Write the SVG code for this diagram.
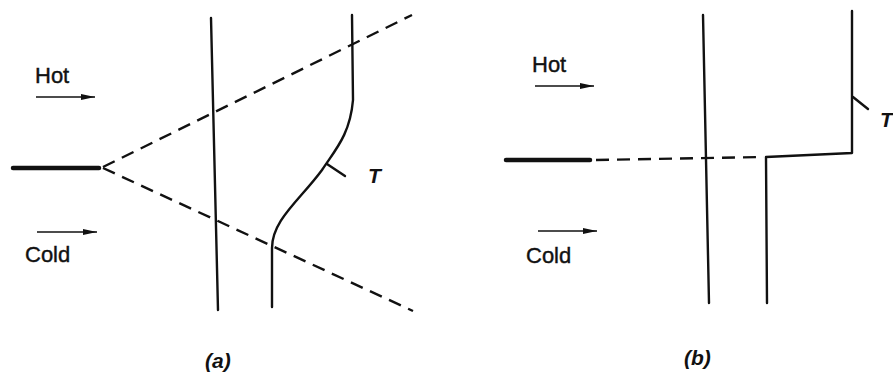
<svg xmlns="http://www.w3.org/2000/svg" width="893" height="378" viewBox="0 0 893 378">
<style>
.ln{fill:none;stroke:#111;stroke-width:2.4;stroke-linecap:round;stroke-linejoin:round}
.thick{fill:none;stroke:#111;stroke-width:4.5;stroke-linecap:round}
.dash{fill:none;stroke:#111;stroke-width:2.4;stroke-dasharray:13 8}
.ar{fill:none;stroke:#111;stroke-width:1.6;marker-end:url(#ah)}
.lb{font-family:"Liberation Sans",Arial,sans-serif;font-size:22px;fill:#111;stroke:#111;stroke-width:0.4}
.it{font-family:"Liberation Sans",Arial,sans-serif;font-size:21px;font-style:italic;font-weight:bold;fill:#111}
</style>
<defs>
<marker id="ah" viewBox="0 0 14 6" refX="14" refY="3" markerWidth="14" markerHeight="6" markerUnits="userSpaceOnUse" orient="auto">
<path d="M0,0 L14,3 L0,6 Z" fill="#111"/>
</marker>
</defs>
<g id="panel-a">
<g id="a-labels">
<text class="lb" x="35" y="83">Hot</text>
<text class="lb" x="25" y="262">Cold</text>
<text class="it" x="368" y="183">T</text>
<text class="it" x="205" y="368">(a)</text>
</g>
<g id="a-connectors">
<line class="ar" x1="36" y1="97" x2="95" y2="97"/>
<line class="ar" x1="37" y1="232" x2="97" y2="232"/>
<line class="thick" x1="13" y1="168" x2="99" y2="168"/>
<path class="dash" d="M103,167 L412,15"/>
<path class="dash" d="M103,168 L413,311"/>
<path class="ln" d="M211,18 L218,310"/>
<path class="ln" d="M352,15 L353,100 C350,135 335,150 322,170 C300,200 272,220 272,248 L272,307"/>
<path class="ln" d="M327,164 L345,176"/>
</g>
</g>
<g id="panel-b">
<g id="b-labels">
<text class="lb" x="532" y="72">Hot</text>
<text class="lb" x="526" y="263">Cold</text>
<text class="it" x="880" y="127">T</text>
<text class="it" x="684" y="365">(b)</text>
</g>
<g id="b-connectors">
<line class="ar" x1="535" y1="86" x2="594" y2="86"/>
<line class="ar" x1="538" y1="231" x2="597" y2="231"/>
<line class="thick" x1="506" y1="160" x2="590" y2="160"/>
<path class="dash" d="M596,160 L764,157"/>
<path class="ln" d="M703,15 L709,303"/>
<path class="ln" d="M767,303 L766,157 L852,153 L852,11"/>
<path class="ln" d="M853,97 L868,109"/>
</g>
</g>
</svg>
